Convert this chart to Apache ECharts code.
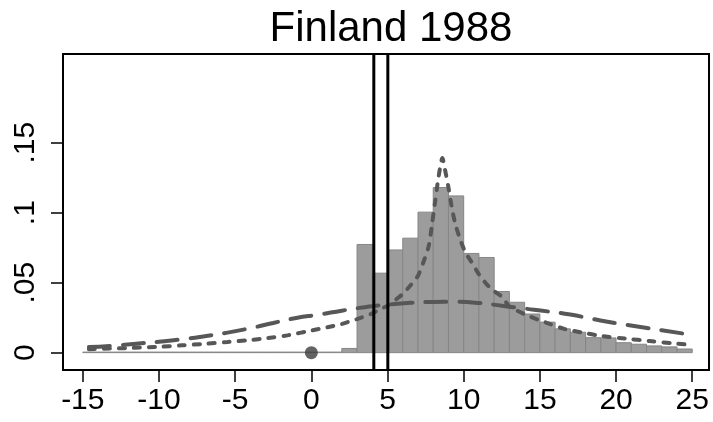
<!DOCTYPE html>
<html>
<head>
<meta charset="utf-8">
<script src="https://cdn.jsdelivr.net/npm/echarts@6/dist/echarts.min.js"></script>
<style>
html,body{margin:0;padding:0;background:#fff;}
#chart{width:713px;height:422px;}
</style>
</head>
<body>
<div id="chart"></div>
<script>
// ---- data ----
const titleText = 'Finland 1988';
const xTicks = [-15, -10, -5, 0, 5, 10, 15, 20, 25];
const yTicks = [0, 0.05, 0.1, 0.15];
const binLeft = [-15,-14,-13,-12,-11,-10,-9,-8,-7,-6,-5,-4,-3,-2,-1,0,1,2,3,4,5,6,7,8,9,10,11,12,13,14,15,16,17,18,19,20,21,22,23,24];
const binWidth = 1;
const binHeight = [0.0004,0.0004,0.0004,0.0004,0.0004,0.0004,0.0004,0.0004,0.0004,0.0004,0.0004,0.0004,0.0004,0.0004,0.0004,0.0004,0.0004,
  0.003,0.0773,0.0568,0.0734,0.0818,0.1004,0.118,0.112,0.0709,0.068,0.0437,0.036,0.0276,0.0218,0.017,0.0146,0.0107,0.0105,0.0071,0.006,0.0048,0.0041,0.0026];
const wideX = [-14.6,-13,-11.5,-10,-8.5,-7,-5.5,-4,-2.5,-1,0.5,2,3.5,5,6.5,8,9.5,11,12.5,14,15.5,17,18.5,20,21.5,23,24.8];
const wideY = [0.0040,0.0050,0.0064,0.0078,0.0095,0.0117,0.0143,0.0175,0.0212,0.0248,0.0272,0.0300,0.0325,0.0343,0.0356,0.0362,0.0363,0.0355,0.0335,0.0315,0.0295,0.0272,0.0240,0.0210,0.0185,0.0160,0.0130];
const narrowX = [-14.6,-12,-10,-8.5,-7,-5.5,-4,-3,-1.5,0,1,2,3,4,4.5,5,5.5,6,6.5,7,7.4,7.7,7.9,8.1,8.3,8.45,8.6,8.75,9.0,9.2,9.45,9.8,10.1,10.5,11,11.5,12,12.5,13,13.5,14.3,15.4,16.6,17.8,19,20.6,22.2,23.9,24.8];
const narrowY = [0.0025,0.0033,0.0042,0.0052,0.0063,0.0076,0.0090,0.0102,0.0125,0.0158,0.0180,0.0205,0.0240,0.0280,0.0310,0.0335,0.0375,0.0420,0.0480,0.0550,0.0660,0.0760,0.0900,0.1060,0.1220,0.1320,0.1390,0.1320,0.1180,0.1050,0.0920,0.0800,0.0720,0.0650,0.0560,0.0490,0.0440,0.0400,0.0330,0.0300,0.0260,0.0215,0.0170,0.0143,0.0120,0.0100,0.0083,0.0065,0.0057];
const vLines = [4.1, 5.02];
const pointX = [0];
const pointY = [0];
const xRange = [-16.3, 26.1];
const yRange = [-0.0124, 0.2134];

// ---- chart ----
const chart = echarts.init(document.getElementById('chart'), null, {renderer: 'canvas'});
const font = '"Liberation Sans", Arial, Helvetica, sans-serif';
const lineColor = '#575757';

const histData = binLeft.map((x, i) => [x, x + binWidth, binHeight[i]]);
const vlineSeries = vLines.map(v => ({
  type: 'line',
  data: [[v, yRange[0]], [v, yRange[1]]],
  symbol: 'none',
  silent: true,
  lineStyle: {color: '#000', width: 3},
  z: 5
}));

chart.setOption({
  animation: false,
  backgroundColor: '#fff',
  title: {
    text: titleText,
    left: 386, top: 3, textAlign: 'center',
    textStyle: {fontFamily: font, fontSize: 42, fontWeight: 'normal', color: '#000'}
  },
  grid: {
    left: 63, right: 4, top: 54, bottom: 52,
    show: true, borderColor: '#000', borderWidth: 2, backgroundColor: '#fff'
  },
  xAxis: {
    type: 'value', min: xRange[0], max: xRange[1],
    axisLine: {show: true, onZero: false, lineStyle: {color: '#000', width: 2}},
    axisTick: {show: true, length: 12, customValues: xTicks, lineStyle: {color: '#000', width: 1.5}},
    axisLabel: {customValues: xTicks, margin: 16, fontFamily: font, fontSize: 30, color: '#000'},
    splitLine: {show: false}
  },
  yAxis: {
    type: 'value', min: yRange[0], max: yRange[1],
    axisLine: {show: true, onZero: false, lineStyle: {color: '#000', width: 2}},
    axisTick: {show: true, length: 12, customValues: yTicks, lineStyle: {color: '#000', width: 1.5}},
    axisLabel: {
      customValues: yTicks, rotate: 90, margin: 22, fontFamily: font, fontSize: 30, color: '#000',
      formatter: v => v === 0 ? '0' : String(+v.toFixed(4)).replace(/^0/, '')
    },
    splitLine: {show: false}
  },
  series: [
    {
      type: 'custom',
      data: histData,
      clip: true,
      z: 2,
      renderItem: function (params, api) {
        const p0 = api.coord([api.value(0), 0]);
        const p1 = api.coord([api.value(1), api.value(2)]);
        return {
          type: 'rect',
          shape: {x: p0[0], y: p1[1], width: p1[0] - p0[0], height: p0[1] - p1[1]},
          style: {fill: '#9c9c9c', stroke: '#868686', lineWidth: 1}
        };
      }
    },
    {
      type: 'line',
      data: wideX.map((x, i) => [x, wideY[i]]),
      symbol: 'none', smooth: true, z: 3,
      lineStyle: {color: lineColor, width: 4, type: [21, 13], cap: 'round'}
    },
    {
      type: 'line',
      data: narrowX.map((x, i) => [x, narrowY[i]]),
      symbol: 'none', smooth: 0.3, z: 3,
      lineStyle: {color: lineColor, width: 4, type: [6, 9], cap: 'round'}
    },
    ...vlineSeries,
    {
      type: 'scatter',
      data: pointX.map((x, i) => [x, pointY[i]]),
      symbol: 'circle', symbolSize: 13, z: 6,
      itemStyle: {color: '#3c3c3c'}
    }
  ]
});
</script>
</body>
</html>
